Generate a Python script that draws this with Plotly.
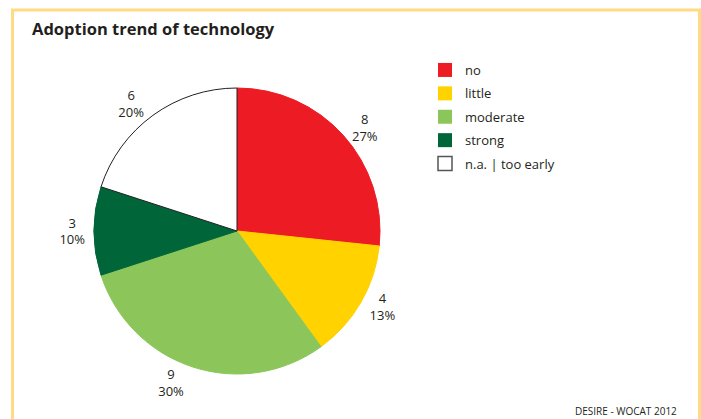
import plotly.graph_objects as go

categories = ["no", "little", "moderate", "strong", "n.a. | too early"]
values = [8, 4, 9, 3, 6]
colors = ["#ED1C24", "#FFD200", "#8CC65A", "#00663A", "#FFFFFF"]
outline = ["#ED1C24", "#FFD200", "#8CC65A", "#00663A", "#231F20"]
legend_outline = ["#ED1C24", "#FFD200", "#8CC65A", "#00663A", "#555555"]
title_text = "Adoption trend of technology"
source_text = "DESIRE - WOCAT 2012"

W, H = 701, 419
FONT = "Open Sans"
TXT = "#231F20"

def px(x):
    return x / W

def py(y):
    return 1 - y / H

fig = go.Figure()
fig.add_trace(go.Pie(
    labels=categories, values=values, sort=False, direction="clockwise",
    rotation=0,
    marker=dict(colors=colors, line=dict(color=outline, width=1)),
    texttemplate="%{value}<br>%{percent:.0%}", textposition="outside",
    textfont=dict(family=FONT, size=13, color=TXT),
    domain=dict(x=[px(94), px(380)], y=[py(374), py(88)]),
    showlegend=False, hoverinfo="label+value+percent",
))

for i, (c, col, oc) in enumerate(zip(categories, colors, legend_outline)):
    fig.add_trace(go.Scatter(
        x=[None], y=[None], mode="markers", name=c, legendgroup=f"g{i}",
        marker=dict(symbol="square", size=14, color=col,
                    line=dict(color=oc, width=1.5 if i == 4 else 0)),
    ))

fig.update_layout(
    width=W, height=H, margin=dict(l=0, r=0, t=0, b=0),
    paper_bgcolor="white", plot_bgcolor="white",
    xaxis=dict(visible=False), yaxis=dict(visible=False),
    font=dict(family=FONT, color=TXT),
    legend=dict(x=px(425), y=py(55), xanchor="left", yanchor="top",
                font=dict(family=FONT, size=13, color=TXT), tracegroupgap=3.5,
                bgcolor="rgba(0,0,0,0)"),
    shapes=[dict(type="path", xref="paper", yref="paper",
                 path=f"M {px(12.5)} -0.05 L {px(12.5)} {py(10)} L {px(699.5)} {py(10)} L {px(699.5)} -0.05",
                 line=dict(color="#FFDC82", width=3))],
    annotations=[
        dict(text=f"<b>{title_text}</b>", x=px(30), y=py(29), xref="paper", yref="paper",
             xanchor="left", yanchor="middle", showarrow=False,
             font=dict(family=FONT, size=16.5, color=TXT)),
        dict(text=source_text, x=px(679), y=py(411), xref="paper", yref="paper",
             xanchor="right", yanchor="middle", showarrow=False,
             font=dict(family=FONT, size=10, color=TXT)),
    ],
)

fig.write_html("out.html", config={"displayModeBar": False},
               post_script="document.body.style.margin='0';document.body.style.overflow='hidden';")
